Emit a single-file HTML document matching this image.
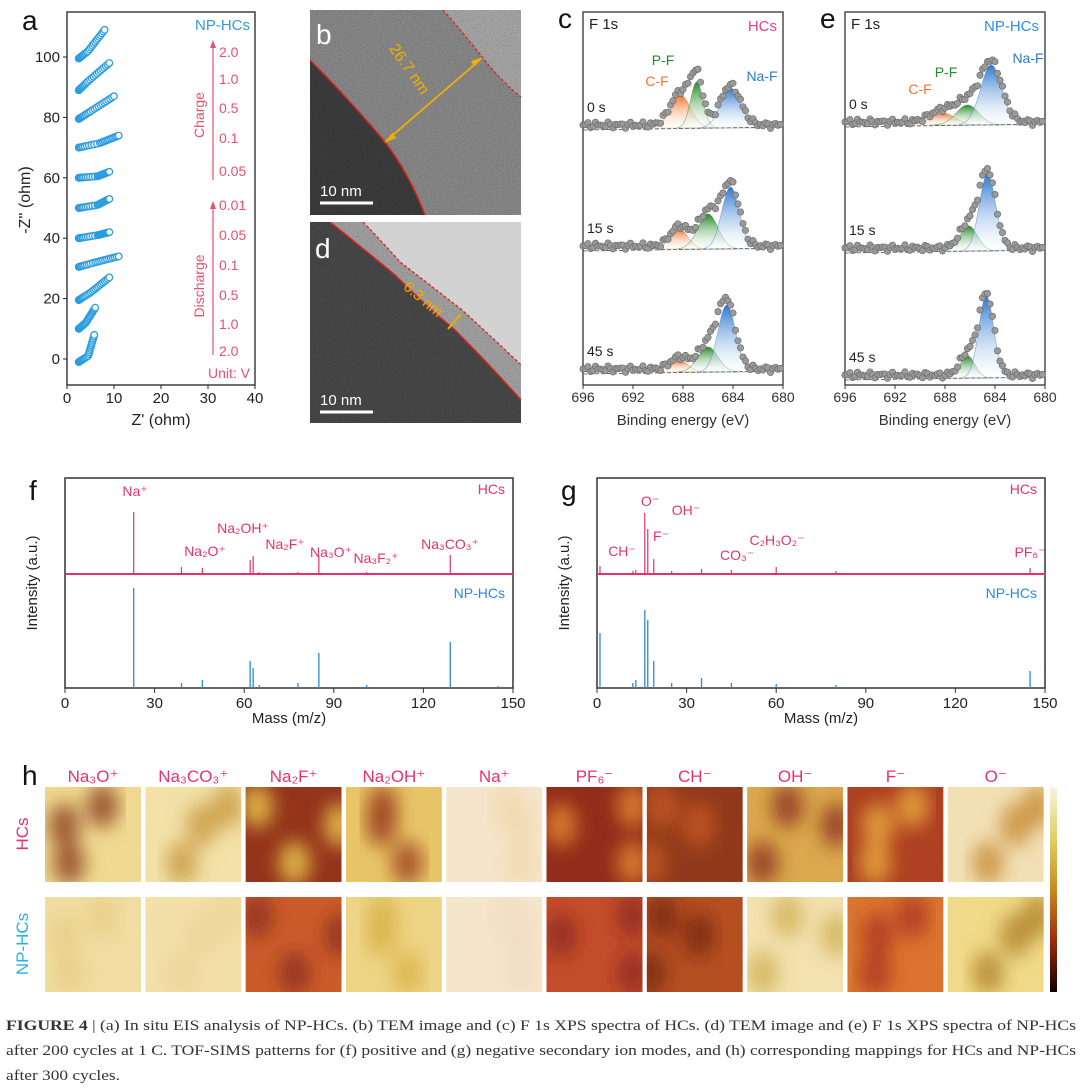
<!DOCTYPE html>
<html><head><meta charset="utf-8"><style>
html,body{margin:0;padding:0;background:#fff;}
svg{display:block;font-family:"Liberation Sans",Arial,sans-serif;}
</style></head><body>
<svg id="fig" width="1080" height="1090" viewBox="0 0 1080 1090" xmlns="http://www.w3.org/2000/svg">
<defs>
<filter id="grain" x="0" y="0" width="100%" height="100%"><feTurbulence type="fractalNoise" baseFrequency="0.9" numOctaves="2" seed="3"/><feColorMatrix type="matrix" values="0 0 0 0 0.5  0 0 0 0 0.5  0 0 0 0 0.5  0 0 0 -1.6 1.1"/><feComposite in2="SourceGraphic" operator="in"/><feBlend in="SourceGraphic" mode="multiply"/></filter>
<filter id="blur8"><feGaussianBlur stdDeviation="9"/></filter>
<linearGradient id="cbar" x1="0" y1="0" x2="0" y2="1"><stop offset="0" stop-color="#f6f3dc"/><stop offset="0.25" stop-color="#dfd060"/><stop offset="0.5" stop-color="#c88a20"/><stop offset="0.75" stop-color="#9a2a08"/><stop offset="1" stop-color="#140000"/></linearGradient>
<linearGradient id="gCF" x1="0" y1="0" x2="0" y2="1"><stop offset="0" stop-color="#f0742a"/><stop offset="1" stop-color="#fff" stop-opacity="0.3"/></linearGradient>
<linearGradient id="gPF" x1="0" y1="0" x2="0" y2="1"><stop offset="0" stop-color="#248a24"/><stop offset="1" stop-color="#fff" stop-opacity="0.3"/></linearGradient>
<linearGradient id="gNaF" x1="0" y1="0" x2="0" y2="1"><stop offset="0" stop-color="#2a78d0"/><stop offset="1" stop-color="#fff" stop-opacity="0.3"/></linearGradient>
<clipPath id="clipB"><rect x="310" y="10" width="211" height="205"/></clipPath>
<clipPath id="clipD"><rect x="310" y="222" width="211" height="201"/></clipPath>
</defs>

<!-- Panel b TEM -->
<g clip-path="url(#clipB)">
<rect x="310" y="10" width="211" height="205" fill="#8c8c8c" filter="url(#grain)"/>
<path d="M310,60 Q350,100 385,142 Q410,175 425,215 L310,215 Z" fill="#3e3e3e" filter="url(#grain)"/>
<path d="M443,10 Q465,35 483,58 Q500,80 521,97 L521,10 Z" fill="#ababab" filter="url(#grain)"/>
<path d="M310,60 Q350,100 385,142 Q410,175 425,215" fill="none" stroke="#e02020" stroke-width="1.5"/>
<path d="M443,10 Q465,35 483,58 Q500,80 521,97" fill="none" stroke="#e02020" stroke-width="1.3" stroke-dasharray="3,2"/>
<line x1="386" y1="141" x2="481" y2="59" stroke="#f0b000" stroke-width="1.8"/>
<polygon points="384,143 393,132 396,138" fill="#f0b000"/>
<polygon points="483,57 474,67 471,61" fill="#f0b000"/>
<text x="405" y="72" fill="#f0b000" font-size="16" text-anchor="middle" transform="rotate(55 405 72)">26.7 nm</text>
<line x1="320" y1="203" x2="373" y2="203" stroke="#fff" stroke-width="3"/>
<text x="320" y="196" fill="#fff" font-size="15">10 nm</text>
<text x="316" y="44" fill="#fff" font-size="28">b</text>
</g>
<!-- Panel d TEM -->
<g clip-path="url(#clipD)">
<rect x="310" y="222" width="211" height="201" fill="#4a4a4a" filter="url(#grain)"/>
<path d="M330,222 Q365,250 395,275 Q425,305 455,330 Q490,365 521,400 L521,222 Z" fill="#a6a6a6" filter="url(#grain)"/>
<path d="M363,222 Q385,245 400,262 Q430,285 462,310 Q495,340 521,365 L521,222 Z" fill="#d2d2d2"/>
<path d="M330,222 Q365,250 395,275 Q425,305 455,330 Q490,365 521,400" fill="none" stroke="#e02020" stroke-width="1.5"/>
<path d="M363,222 Q385,245 400,262 Q430,285 462,310 Q495,340 521,365" fill="none" stroke="#e02020" stroke-width="1.3" stroke-dasharray="3,2"/>
<line x1="448" y1="329" x2="461" y2="314" stroke="#f0b000" stroke-width="2"/>
<text x="420" y="303" fill="#f0b000" font-size="15" text-anchor="middle" transform="rotate(40 420 303)">6.3 nm</text>
<line x1="320" y1="412" x2="373" y2="412" stroke="#fff" stroke-width="3"/>
<text x="320" y="405" fill="#fff" font-size="15">10 nm</text>
<text x="315" y="258" fill="#fff" font-size="28">d</text>
</g>

<g id="gen"></g>

<!-- Caption -->
<g font-family="Liberation Serif,serif" font-size="15" fill="#333">
<text x="6" y="1030" textLength="1070" lengthAdjust="spacingAndGlyphs"><tspan font-weight="bold">FIGURE  4</tspan>  |  (a) In situ EIS analysis of NP-HCs. (b) TEM image and (c) F 1s XPS spectra of HCs. (d) TEM image and (e) F 1s XPS spectra of NP-HCs</text>
<text x="6" y="1055" textLength="1070" lengthAdjust="spacingAndGlyphs">after 200 cycles at 1 C. TOF-SIMS patterns for (f) positive and (g) negative secondary ion modes, and (h) corresponding mappings for HCs and NP-HCs</text>
<text x="6" y="1080" textLength="114" lengthAdjust="spacingAndGlyphs">after 300 cycles.</text>
</g>
</svg>
<script>
// ---------- DATA ----------
// Panel a: EIS traces (ohm)
const eisOffsets=[0,10,20,30,40,50,60,70,80,90,100];
const eisStartY=[-1,10,19.5,30.5,40,50,60,70,79.5,89,99.5];
const eisMidX=[4.5,4,5,6,6.5,6.5,6.5,7,5,4.5,4.5];
const eisMidY=[1,12,22,32,41,51,60.5,71.5,82,92,102];
const eisEndX=[5.8,6,9,11,9,9,9,11,10,9,8];
const eisEndY=[8,17,27,34,42,53,62,74,87,98,109];
const eisXTicks=[0,10,20,30,40];
const eisYTicks=[0,20,40,60,80,100];
const chargeLabels=["2.0","1.0","0.5","0.1","0.05"];
const dischargeLabels=["0.01","0.05","0.1","0.5","1.0","2.0"];
// Panel c/e: XPS peak params [center eV, height, sigma]
const cCF=[[688.2,33,0.8],[688.3,20,0.7],[688.3,12,0.7]];
const cPF=[[686.9,46,0.5],[686.0,35,0.8],[686.0,25,0.8]];
const cNaF=[[684.2,40,0.8],[684.2,62,0.7],[684.5,67,0.7]];
const eCF=[[688.2,12,1.0],[688,0,1],[688,0,1]];
const ePF=[[686.2,20,0.9],[686.1,25,0.7],[686.2,22,0.6]];
const eNaF=[[684.3,60,0.85],[684.6,77,0.65],[684.7,82,0.6]];
const xpsTimes=["0 s","15 s","45 s"];
const cBase=[128,249,372];
const eBase=[125,251,378];
const xpsXTicks=[696,692,688,684,680];
// Panel f: positive ions
const fMass=[23,39,46,62,63,65,78,85,101,129,145];
const fHCs=[62,7,6,14,18,2,2,18,2,19,1];
const fNP=[100,5,8,27,20,3,5,35,3,46,2];
const fLabels=[["Na⁺",135,496],["Na₂O⁺",205,556],["Na₂OH⁺",243,533],["Na₂F⁺",285,549],["Na₃O⁺",331,557],["Na₃F₂⁺",376,563],["Na₃CO₃⁺",450,549]];
// Panel g: negative ions
const gMass=[1,12,13,16,17,19,25,35,45,60,80,145];
const gHCs=[8,3,4,61,45,15,3,5,4,7,3,6];
const gNP=[55,5,8,78,68,27,5,10,5,4,3,17];
const gLabels=[["O⁻",650,506],["OH⁻",686,515],["F⁻",661,541],["CH⁻",622,556],["CO₃⁻",737,560],["C₂H₃O₂⁻",777,545],["PF₆⁻",1030,557]];
const msXTicks=[0,30,60,90,120,150];
// Panel h: maps
const mapNames=["Na₃O⁺","Na₃CO₃⁺","Na₂F⁺","Na₂OH⁺","Na⁺","PF₆⁻","CH⁻","OH⁻","F⁻","O⁻"];
const mapHCsBase=["#f0d88a","#f3e0a2","#8c2408","#e8c25c","#f6e4c8","#8a1c08","#8a2a0a","#d9a240","#a83210","#f2dfb0"];
const mapHCsBlob=["#8a3a08","#c89838","#e8c040","#9a3a08","#f0d8a8","#e07a20","#c04a10","#8a2a08","#e8a030","#c88a30"];
const mapNPBase=["#f2dc9c","#f3dfa2","#c8501a","#eed27c","#f6e4c8","#c0401a","#b0420f","#f3e0aa","#d86a20","#f0d880"];
const mapNPBlob=["#e8cc80","#ebd290","#8a2008","#d8b040","#f0dcc0","#8a1a08","#701a06","#d0b050","#a82a10","#b08020"];

// ---------- HELPERS ----------
const NS="http://www.w3.org/2000/svg";
const root=document.getElementById('gen');
function mk(tag,attrs,parent){const e=document.createElementNS(NS,tag);for(const k in attrs)e.setAttribute(k,attrs[k]);(parent||root).appendChild(e);return e;}
function txt(s,attrs,parent){const e=mk('text',attrs,parent);e.textContent=s;return e;}

// ---------- PANEL A ----------
(function(){
 const g=mk('g',{});
 
 
 const L=67,R=255,T=12,B=385;
 const xs=v=>L+(v-0)/40*(R-L);
 const ys=v=>359-v*3.02;
 const frame=mk('rect',{x:L,y:T,width:R-L,height:B-T,fill:'none',stroke:'#222','stroke-width':1.3},g);
 
 
 eisXTicks.forEach(v=>{mk('line',{x1:xs(v),x2:xs(v),y1:B,y2:B+4,stroke:'#222'},g);txt(v,{x:xs(v),y:B+18,'font-size':15,'text-anchor':'middle',fill:'#222'},g);});
 eisYTicks.forEach(v=>{mk('line',{x1:L-4,x2:L,y1:ys(v),y2:ys(v),stroke:'#222'},g);txt(v,{x:L-7,y:ys(v)+5,'font-size':15,'text-anchor':'end',fill:'#222'},g);});
 txt("Z' (ohm)",{x:161,y:425,'font-size':16,'text-anchor':'middle',fill:'#222'},g);
 txt("-Z'' (ohm)",{x:30,y:200,'font-size':16,'text-anchor':'middle',fill:'#222',transform:'rotate(-90 30 200)'},g);
 txt("a",{x:22,y:30,'font-size':28,fill:'#111'},g);
 txt("NP-HCs",{x:250,y:30,'font-size':15,'text-anchor':'end',fill:'#2a9de0'},g);
 eisOffsets.forEach((o,i)=>{
  const tg=mk('g',{},g);
  
  
  const pts=[];
  for(let k=0;k<12;k++){const t=(k/11)**1.6;pts.push([2.5+(eisMidX[i]-2.5)*t,eisStartY[i]+(eisMidY[i]-eisStartY[i])*t]);}
  for(let k=1;k<=12;k++){const t=k/12;pts.push([eisMidX[i]+(eisEndX[i]-eisMidX[i])*t,eisMidY[i]+(eisEndY[i]-eisMidY[i])*t]);}
  pts.forEach(p=>mk('circle',{cx:xs(p[0]),cy:ys(p[1]),r:3.3,fill:'#fff',stroke:'#2a9de0','stroke-width':1.3},tg));
 });
 const pink='#e8506e';
 mk('line',{x1:213,y1:180,x2:213,y2:46,stroke:pink,'stroke-width':1.2},g);
 mk('polygon',{points:'210,48 216,48 213,40',fill:pink},g);
 mk('line',{x1:213,y1:355,x2:213,y2:207,stroke:pink,'stroke-width':1.2},g);
 mk('polygon',{points:'210,209 216,209 213,201',fill:pink},g);
 const cy=[57,84,113,143,176];
 chargeLabels.forEach((s,i)=>txt(s,{x:219,y:cy[i],'font-size':14,fill:pink},g));
 const dy=[210,240,270,300,329,356];
 dischargeLabels.forEach((s,i)=>txt(s,{x:219,y:dy[i],'font-size':14,fill:pink},g));
 txt("Charge",{x:204,y:115,'font-size':14,'text-anchor':'middle',fill:pink,transform:'rotate(-90 204 115)'},g);
 txt("Discharge",{x:204,y:286,'font-size':14,'text-anchor':'middle',fill:pink,transform:'rotate(-90 204 286)'},g);
 txt("Unit: V",{x:250,y:378,'font-size':14,'text-anchor':'end',fill:pink},g);
})();

// ---------- PANELS C / E ----------
function xps(name,L,letter,title,titleColor,CF,PF,NaF,base,labels){
 const g=mk('g',{});
 
 
 const R=L+200,T=12,B=385;
 const xs=v=>L+(696-v)/16*(R-L);
 const frame=mk('rect',{x:L,y:T,width:R-L,height:B-T,fill:'none',stroke:'#333','stroke-width':1.3},g);
 
 
 xpsXTicks.forEach(v=>{mk('line',{x1:xs(v),x2:xs(v),y1:B,y2:B+4,stroke:'#333'},g);txt(v,{x:xs(v),y:B+17,'font-size':14,'text-anchor':'middle',fill:'#333'},g);});
 txt("Binding energy (eV)",{x:(L+R)/2,y:425,'font-size':15,'text-anchor':'middle',fill:'#333'},g);
 txt("F 1s",{x:L+6,y:29,'font-size':15,fill:'#222'},g);
 txt(title,{x:R-6,y:31,'font-size':15,'text-anchor':'end',fill:titleColor},g);
 txt(letter,{x:L-25,y:28,'font-size':28,fill:'#111'},g);
 const gauss=(p,e)=>p[1]*Math.exp(-((e-p[0])**2)/(2*p[2]*p[2]));
 for(let s=0;s<3;s++){
  const sg=mk('g',{},g);
  
  
  const b0=base[s];
  [[CF[s],'gCF','#f0742a'],[PF[s],'gPF','#248a24'],[NaF[s],'gNaF','#2a78d0']].forEach(c=>{
   if(c[0][1]<=0)return;
   let d='M'+xs(c[0][0]-3*c[0][2])+','+b0;
   for(let e=c[0][0]-3*c[0][2];e<=c[0][0]+3*c[0][2];e+=0.05)d+=' L'+xs(e).toFixed(1)+','+(b0-gauss(c[0],e)).toFixed(1);
   d+=' L'+xs(c[0][0]+3*c[0][2])+','+b0+' Z';
   mk('path',{d:d,fill:'url(#'+c[1]+')',stroke:c[2],'stroke-width':0.6,'stroke-opacity':0.6},sg);
  });
  mk('line',{x1:L,x2:R,y1:b0+2,y2:b0-1,stroke:'#555','stroke-width':0.8,'stroke-dasharray':'4,2'},sg);
  let k=0;
  for(let e=696;e>=680;e-=0.2){
   const y=b0-gauss(CF[s],e)-gauss(PF[s],e)-gauss(NaF[s],e)-3-3.5*Math.sin(k*2.7)*Math.cos(k*1.3);
   mk('circle',{cx:xs(e),cy:y,r:3.2,fill:'#9a9a9a',stroke:'#666','stroke-width':0.6},sg);k++;
  }
  txt(xpsTimes[s],{x:L+4,y:b0-16,'font-size':14,fill:'#222'},sg);
 }
 labels.forEach(l=>txt(l[0],{x:l[1],y:l[2],'font-size':14,'text-anchor':'middle',fill:l[3]},g));
}
xps('xps-panel-c',583,'c','HCs','#e63c9a',cCF,cPF,cNaF,cBase,[["P-F",663,65,'#248a24'],["C-F",657,86,'#f0742a'],["Na-F",762,81,'#2a78d0']]);
xps('xps-panel-e',845,'e','NP-HCs','#2a90e0',eCF,ePF,eNaF,eBase,[["Na-F",1028,63,'#2a78d0'],["P-F",946,77,'#248a24'],["C-F",920,94,'#f0742a']]);

// ---------- PANELS F / G ----------
function ms(name,L,letter,mass,hcs,np,labels){
 const g=mk('g',{});
 
 
 const R=L+448,T=478,B=688,mid=574;
 const xs=v=>L+v/150*(R-L);
 const frame=mk('rect',{x:L,y:T,width:R-L,height:B-T,fill:'none',stroke:'#333','stroke-width':1.5},g);
 
 
 msXTicks.forEach(v=>{mk('line',{x1:xs(v),x2:xs(v),y1:B,y2:B+5,stroke:'#333'},g);txt(v,{x:xs(v),y:B+20,'font-size':15,'text-anchor':'middle',fill:'#222'},g);});
 txt("Mass (m/z)",{x:(L+R)/2,y:723,'font-size':15,'text-anchor':'middle',fill:'#222'},g);
 txt("Intensity (a.u.)",{x:L-28,y:583,'font-size':15,'text-anchor':'middle',fill:'#222',transform:'rotate(-90 '+(L-28)+' 583)'},g);
 txt(letter,{x:L-36,y:500,'font-size':28,fill:'#111'},g);
 mk('line',{x1:L,x2:R,y1:mid,y2:mid,stroke:'#e83070','stroke-width':2},g);
 const hg=mk('g',{},g);
 
 
 mass.forEach((m,i)=>mk('line',{x1:xs(m),x2:xs(m),y1:mid,y2:mid-hcs[i],stroke:'#e83070','stroke-width':1.2},hg));
 const ng=mk('g',{},g);
 
 
 mass.forEach((m,i)=>mk('line',{x1:xs(m),x2:xs(m),y1:B,y2:B-np[i],stroke:'#2a8ad8','stroke-width':1.3},ng));
 txt("HCs",{x:R-8,y:494,'font-size':14,'text-anchor':'end',fill:'#e83070'},g);
 txt("NP-HCs",{x:R-8,y:598,'font-size':14,'text-anchor':'end',fill:'#2a8ad8'},g);
 labels.forEach(l=>txt(l[0],{x:l[1],y:l[2],'font-size':14,'text-anchor':'middle',fill:'#e83070'},g));
}
ms('tof-sims-positive-f',65,'f',fMass,fHCs,fNP.map(v=>v),fLabels);
ms('tof-sims-negative-g',597,'g',gMass,gHCs,gNP,gLabels);

// ---------- PANEL H ----------
(function(){
 const g=mk('g',{});
 
 
 txt("h",{x:22,y:785,'font-size':28,fill:'#111'},g);
 txt("HCs",{x:28,y:834,'font-size':17,'text-anchor':'middle',fill:'#e83070',transform:'rotate(-90 28 834)'},g);
 txt("NP-HCs",{x:28,y:944,'font-size':17,'text-anchor':'middle',fill:'#2ab0e0',transform:'rotate(-90 28 944)'},g);
 const blobPos=[[0.25,0.8],[0.6,0.2],[0.2,0.4]];
 mapNames.forEach((n,i)=>{
  const x=45+i*100.3,w=96;
  txt(n,{x:x+w/2,y:782,'font-size':17,'text-anchor':'middle',fill:'#e83070'},g);
  [[787,mapHCsBase,mapHCsBlob,'hcs'],[897,mapNPBase,mapNPBlob,'np-hcs']].forEach(r=>{
   const tg=mk('g',{},g);
   
   
   const cp=mk('clipPath',{id:'cp'+r[3]+i},tg);
   mk('rect',{x:x,y:r[0],width:w,height:95},cp);
   const inner=mk('g',{'clip-path':'url(#cp'+r[3]+i+')'},tg);
   mk('rect',{x:x,y:r[0],width:w,height:95,fill:r[1][i]},inner);
   const bg=mk('g',{filter:'url(#blur8)'},inner);
   blobPos.forEach((p,k)=>mk('ellipse',{cx:x+w*((p[0]+i*0.13*(k+1))%1),cy:r[0]+95*p[1],rx:16,ry:22,fill:r[2][i],opacity:0.85},bg));
   mk('rect',{x:x,y:r[0],width:w,height:95,fill:'#fff',opacity:0.08,filter:'url(#grain)'},inner);
  });
 });
 const cb=mk('rect',{x:1050,y:788,width:7,height:204,fill:'url(#cbar)'},g);
 
 
})();
</script>
</body></html>
